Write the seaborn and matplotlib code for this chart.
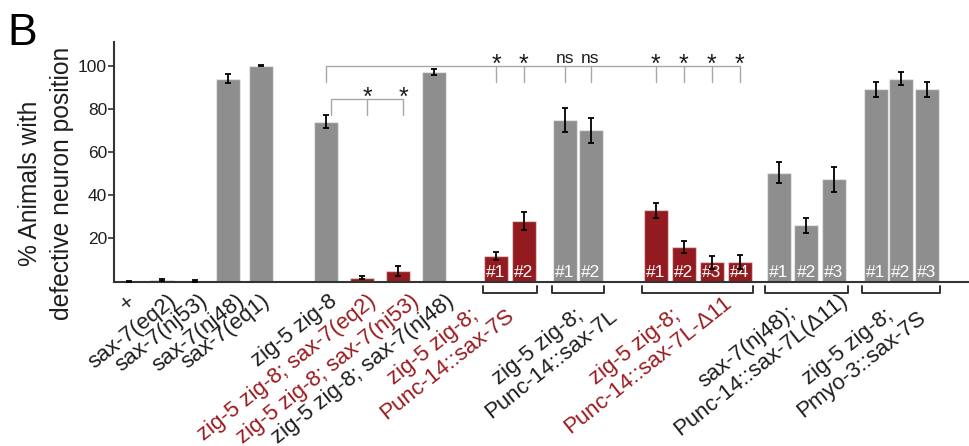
import numpy as np
import pandas as pd
import seaborn as sns
import matplotlib.pyplot as plt

sns.set_theme(style='ticks')
plt.rcParams['font.family'] = ['Liberation Sans', 'DejaVu Sans']

# one bar per strain on the left
single_labels = ['+', 'sax-7(eq2)', 'sax-7(nj53)', 'sax-7(nj48)', 'sax-7(eq1)',
                 'zig-5 zig-8', 'zig-5 zig-8; sax-7(eq2)', 'zig-5 zig-8; sax-7(nj53)',
                 'zig-5 zig-8; sax-7(nj48)']
single_red = [False, False, False, False, False, False, True, True, False]

# transgenic lines (#1, #2 ...) share one label
group_labels = ['zig-5 zig-8;\nPunc-14::sax-7S',
                'zig-5 zig-8;\nPunc-14::sax-7L',
                'zig-5 zig-8;\nPunc-14::sax-7L-Δ11',
                'sax-7(nj48);\nPunc-14::sax-7L(Δ11)',
                'zig-5 zig-8;\nPmyo-3::sax-7S']
group_sizes = [2, 2, 4, 3, 3]
group_red = [True, False, True, False, False]

pct = [0, 0.8, 0.3, 94, 100, 74, 1.8, 5, 97,
       12, 28, 75, 70, 33, 16, 9, 9, 50.5, 26, 47.3, 89, 94, 89]
sem = [0.3, 0.5, 0.3, 2, 0.2, 3, 0.8, 2.3, 1.5,
       1.9, 4.2, 5.6, 5.6, 3.5, 2.7, 3, 3.3, 4.8, 3.5, 5.6, 3.5, 2.9, 3.5]
kind = (['defect'] * 6 + ['rescue', 'rescue', 'defect'] + ['rescue'] * 2 + ['defect'] * 2
        + ['rescue'] * 4 + ['defect'] * 6)

# comparisons against zig-5 zig-8 (bar 5)
ref_bar = 5
sig_near = [6, 7]
sig_near_txt = ['*', '*']
sig_far = [9, 10, 11, 12, 13, 14, 15, 16]
sig_far_txt = ['*', '*', 'ns', 'ns', '*', '*', '*', '*']

# layout: bars per block, pitch and gap before block (pixel-like units)
block_n = [5, 4] + group_sizes
pitch = [33, 36, 27.5, 25.5, 28, 27.75, 25.5]
gap = [15, 65, 62, 41.5, 65, 39, 41.5]
pos = []
x = 0
for n, p, g in zip(block_n, pitch, gap):
    x += g
    pos += [x + i * p for i in range(n)]
    x += (n - 1) * p
pos = np.array(pos)
bar_w = 24

gray = '#8e8e8e'
red = '#931a1e'
txt_red = '#9a1c20'
ink = '#1e1e1e'
rot = 38.5
lab_fs = 16

df = pd.DataFrame({'pos': pos, 'pct': pct, 'kind': kind})

fig = plt.figure(figsize=(9.69, 4.46), dpi=100)
ax = fig.add_axes([114 / 969, 164.5 / 446, 855 / 969, 239.5 / 446])

sns.barplot(data=df, x='pos', y='pct', hue='kind', palette={'defect': gray, 'rescue': red},
            native_scale=True, dodge=False, errorbar=None, legend=False, saturation=1,
            width=bar_w / np.diff(np.unique(pos)).min(),
            edgecolor=(1, 1, 1, 0.5), linewidth=1, ax=ax)
ax.errorbar(pos, pct, yerr=sem, fmt='none', ecolor='black', elinewidth=1.3,
            capsize=2.2, capthick=1.3, zorder=5)

ax.set_xlim(0, 855)
ax.set_ylim(0, 111)
ax.set_xticks([])
ax.set_yticks([20, 40, 60, 80, 100])
ax.tick_params(axis='y', length=4, width=1.2, color='#333333', labelsize=12.5,
               labelcolor=ink, pad=1)
ax.set_xlabel('')
ax.set_ylabel('')
sns.despine(ax=ax)
for s in ['left', 'bottom']:
    ax.spines[s].set_color('#333333')
    ax.spines[s].set_linewidth(1.5)

# significance brackets
sig_col = '#a8a8a8'
top, drop = 100, 92.6
ax.plot([pos[ref_bar], pos[ref_bar], pos[sig_far[-1]]], [drop, top, top], color=sig_col, lw=1)
for b, t in zip(sig_far, sig_far_txt):
    ax.plot([pos[b], pos[b]], [top, drop], color=sig_col, lw=1)
    if t == '*':
        ax.text(pos[b], top + 0.5, t, ha='center', va='center', fontsize=18, color=ink)
    else:
        ax.text(pos[b], top + 1.2, t, ha='center', va='baseline', fontsize=12.5, color=ink)
shift = 5
top2, drop2 = 84.7, 77.1
ax.plot([pos[ref_bar] + shift, pos[ref_bar] + shift, pos[sig_near[-1]] + shift],
        [drop2, top2, top2], color=sig_col, lw=1)
for b, t in zip(sig_near, sig_near_txt):
    ax.plot([pos[b] + shift, pos[b] + shift], [top2, drop2], color=sig_col, lw=1)
    ax.text(pos[b] + shift, top2 + 0.5, t, ha='center', va='center', fontsize=18, color=ink)

# line numbers inside bars and brackets under each group
first = len(single_labels)
group_dx = [-70, -33, -56, -52, -46]
for g, (n, lab, is_red) in enumerate(zip(group_sizes, group_labels, group_red)):
    idx = list(range(first, first + n))
    for k, b in enumerate(idx):
        ax.text(pos[b], 4.0, '#%d' % (k + 1), ha='center', va='center', fontsize=12.5,
                color='white')
    x0 = pos[idx[0]] - bar_w / 2 - 1.5
    x1 = pos[idx[-1]] + bar_w / 2 + 1.5
    ax.plot([x0, x0, x1, x1], [-2.2, -5.3, -5.3, -2.2], color='#333333', lw=1.4, clip_on=False)
    ax.annotate(lab, xy=((x0 + x1) / 2 + group_dx[g], 0), xycoords=('data', 'axes fraction'),
                xytext=(0, -53.6), textcoords='offset points', ha='center', va='center',
                multialignment='center', rotation=rot, rotation_mode='anchor', fontsize=lab_fs,
                linespacing=1.08, color=txt_red if is_red else ink)
    first += n

single_dx = [-3, 6, 4, 8, 0, 2, 5, 12, 11]
for i, (lab, is_red) in enumerate(zip(single_labels, single_red)):
    ax.annotate(lab, xy=(pos[i] + single_dx[i], 0), xycoords=('data', 'axes fraction'),
                xytext=(0, -6.5), textcoords='offset points', ha='right', va='top',
                rotation=rot, rotation_mode='anchor', fontsize=lab_fs,
                color=txt_red if is_red else ink)

# two-line y title, one text per line
fig.text(30 / 969, 1 - 183 / 446, '% Animals with', rotation=90,
         ha='center', va='center', fontsize=17.7, color=ink)
fig.text(62 / 969, 1 - 183 / 446, 'defective neuron position', rotation=90,
         ha='center', va='center', fontsize=17.7, color=ink)
fig.text(7 / 969, 1 - 45 / 446, 'B', fontsize=32, va='baseline', ha='left', color='black')

fig.savefig('out.png', dpi=100)
